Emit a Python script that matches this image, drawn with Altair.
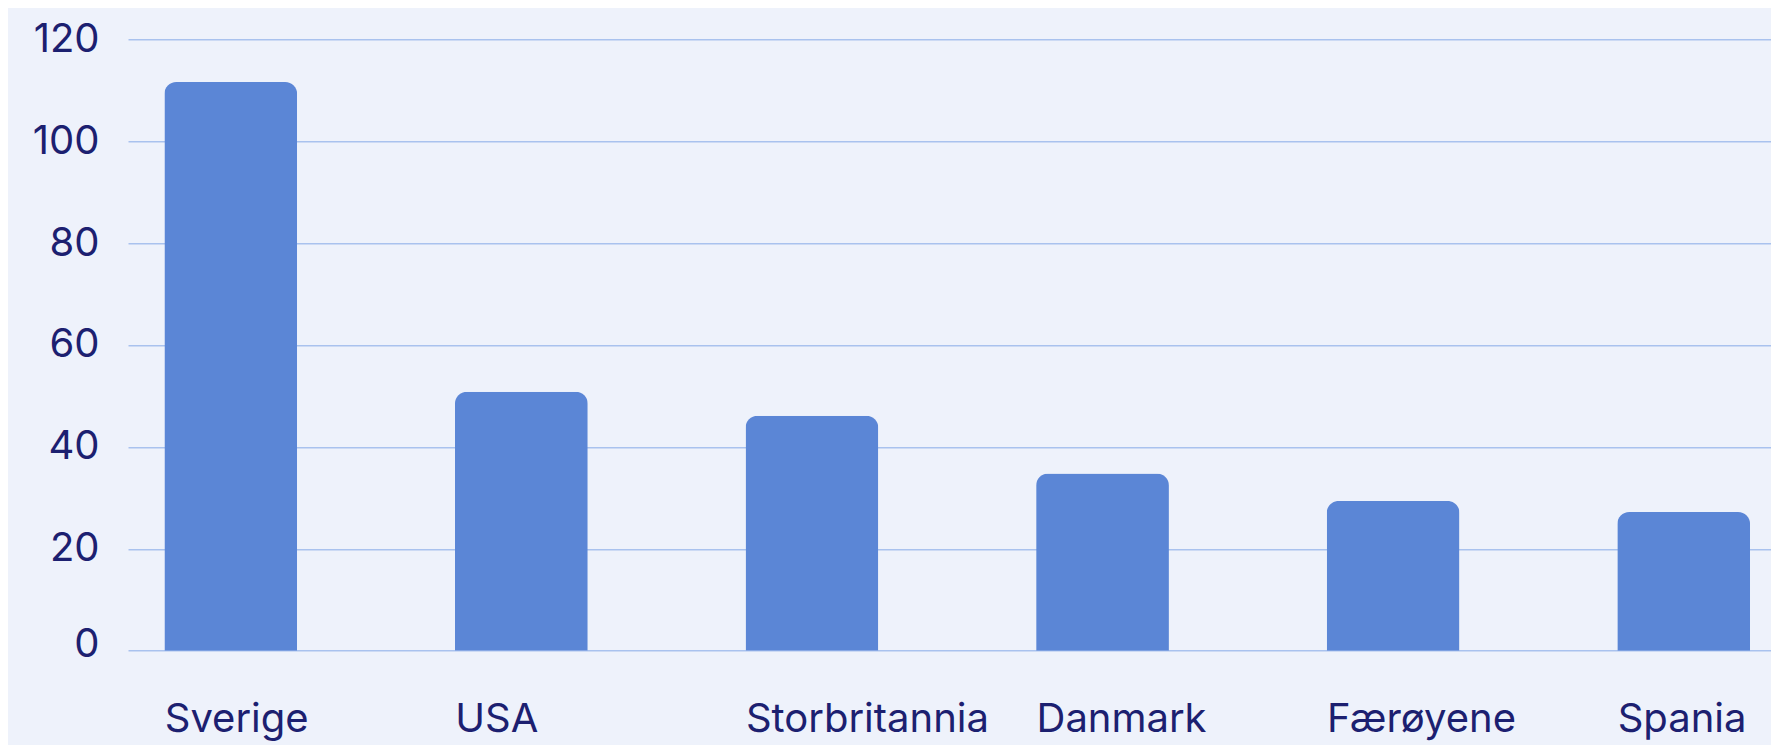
import altair as alt
import pandas as pd

countries = ["Sverige", "USA", "Storbritannia", "Danmark", "Færøyene", "Spania"]
values = [111.6, 50.8, 46.1, 34.8, 29.4, 27.2]
y_ticks = [0, 20, 40, 60, 80, 100, 120]

df = pd.DataFrame({"land": countries, "verdi": values})

BG = "#EEF2FB"
BAR = "#5B86D6"
GRID = "#A9C2EE"
TEXT = "#1C2070"
FONT = "Inter"

chart = (
    alt.Chart(df)
    .mark_bar(color=BAR, cornerRadiusTopLeft=12, cornerRadiusTopRight=12)
    .encode(
        x=alt.X(
            "land:N",
            sort=countries,
            scale=alt.Scale(paddingInner=0.543, paddingOuter=0.0985, align=0.635),
            axis=alt.Axis(
                title=None,
                labelAngle=0,
                labelAlign="left",
                labelBaseline="top",
                labelOffset=-66,
                labelPadding=49,
                labelLimit=0,
                labelOverlap=False,
                ticks=False,
                domain=False,
                grid=False,
                labelFont=FONT,
                labelFontSize=40,
                labelColor=TEXT,
            ),
        ),
        y=alt.Y(
            "verdi:Q",
            scale=alt.Scale(domain=[0, 120], nice=False),
            axis=alt.Axis(
                title=None,
                values=y_ticks,
                ticks=False,
                domain=False,
                grid=True,
                gridColor=GRID,
                gridWidth=1.5,
                labelPadding=29,
                labelFont=FONT,
                labelFontSize=40,
                labelColor=TEXT,
                labelOffset={"condition": {"test": "datum.value == 0", "value": -6}, "value": 0},
            ),
        ),
    )
    .properties(
        width=1643,
        height=611.4,
        background=BG,
        padding={"left": 120, "top": 31.3, "right": 0, "bottom": 94},
        autosize=alt.AutoSizeParams(type="none"),
    )
    .configure_view(stroke=None)
)

chart.save("out.html", embed_options={"renderer": "svg", "actions": False})
